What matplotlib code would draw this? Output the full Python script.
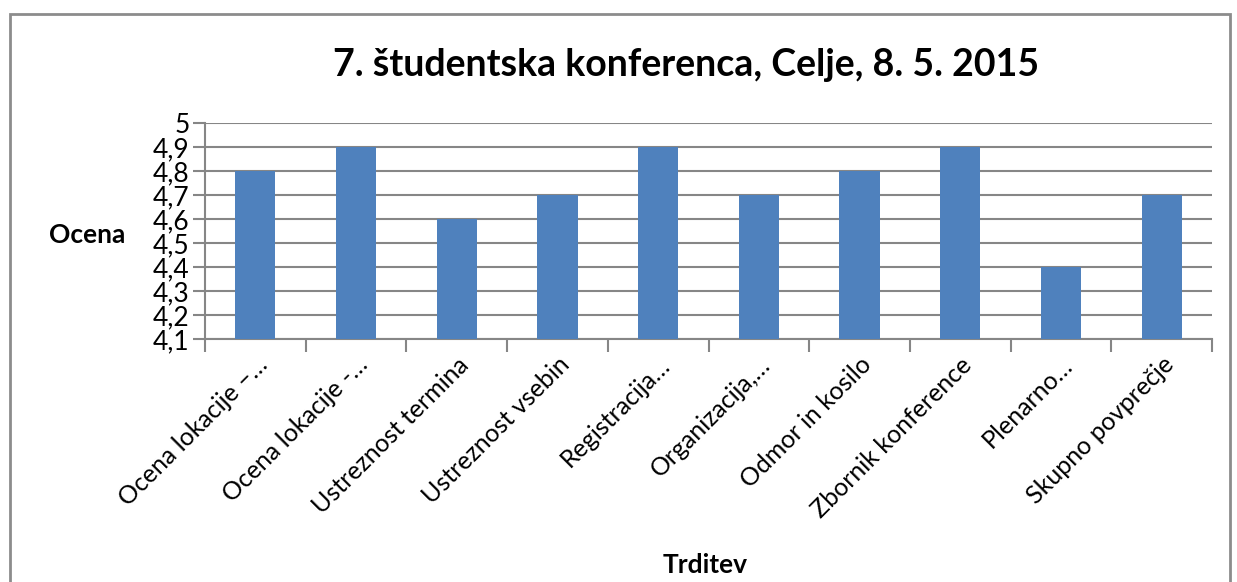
import numpy as np
import matplotlib.pyplot as plt
from matplotlib.patches import Rectangle

categories = ["Ocena lokacije –…", "Ocena lokacije -…", "Ustreznost termina",
              "Ustreznost vsebin", "Registracija…", "Organizacija,…",
              "Odmor in kosilo", "Zbornik konference", "Plenarno…",
              "Skupno povprečje"]
values = [4.8, 4.9, 4.6, 4.7, 4.9, 4.7, 4.8, 4.9, 4.4, 4.7]
yticks = [4.1, 4.2, 4.3, 4.4, 4.5, 4.6, 4.7, 4.8, 4.9, 5.0]

plt.rcParams['font.family'] = ['Lato', 'DejaVu Sans']

W, H = 1237, 582
fig = plt.figure(figsize=(W / 100, H / 100), dpi=100)
ax = fig.add_axes([205 / W, 1 - 339 / H, (1212 - 205) / W, (339 - 123) / H])

grid_col = "#868686"
x = np.arange(len(categories))
ax.bar(x, [v - 4.1 for v in values], bottom=4.1, width=0.4, color="#4F81BD", zorder=3)

ax.set_xlim(-0.5, len(categories) - 0.5)
ax.set_ylim(4.1, 5.0)
ax.set_yticks(yticks)
ax.set_yticklabels([f"{t:.1f}".replace(".", ",").replace("5,0", "5") for t in yticks], fontsize=19)
ax.yaxis.grid(True, color=grid_col, linewidth=1.5, zorder=0)
ax.tick_params(axis="y", length=9, width=1.5, color=grid_col, pad=2)

ax.set_xticks(x)
ax.set_xticklabels(categories, rotation=45, ha="right", rotation_mode="anchor", fontsize=18)
ax.set_xticks(np.arange(-0.5, len(categories)), minor=True)
ax.tick_params(axis="x", which="major", length=0, pad=10)
ax.tick_params(axis="x", which="minor", length=9, width=1.5, color=grid_col)

for s in ["top", "right"]:
    ax.spines[s].set_visible(False)
for s in ["left", "bottom"]:
    ax.spines[s].set_color(grid_col)
    ax.spines[s].set_linewidth(1.5)

fig.text(686 / W, 1 - 65 / H, "7. študentska konferenca, Celje, 8. 5. 2015",
         ha="center", va="center", fontsize=27, fontweight="bold")
fig.text(87 / W, 1 - 235 / H, "Ocena", ha="center", va="center", fontsize=19, fontweight="bold")
fig.text(705 / W, 1 - 565 / H, "Trditev", ha="center", va="center", fontsize=19, fontweight="bold")

fig.patches.append(Rectangle((10 / W, -0.1), (1230 - 10) / W, 1 - 14 / H + 0.1,
                             transform=fig.transFigure, fill=False,
                             edgecolor="#8c8c8c", linewidth=2))

fig.savefig("out.png", dpi=100)
